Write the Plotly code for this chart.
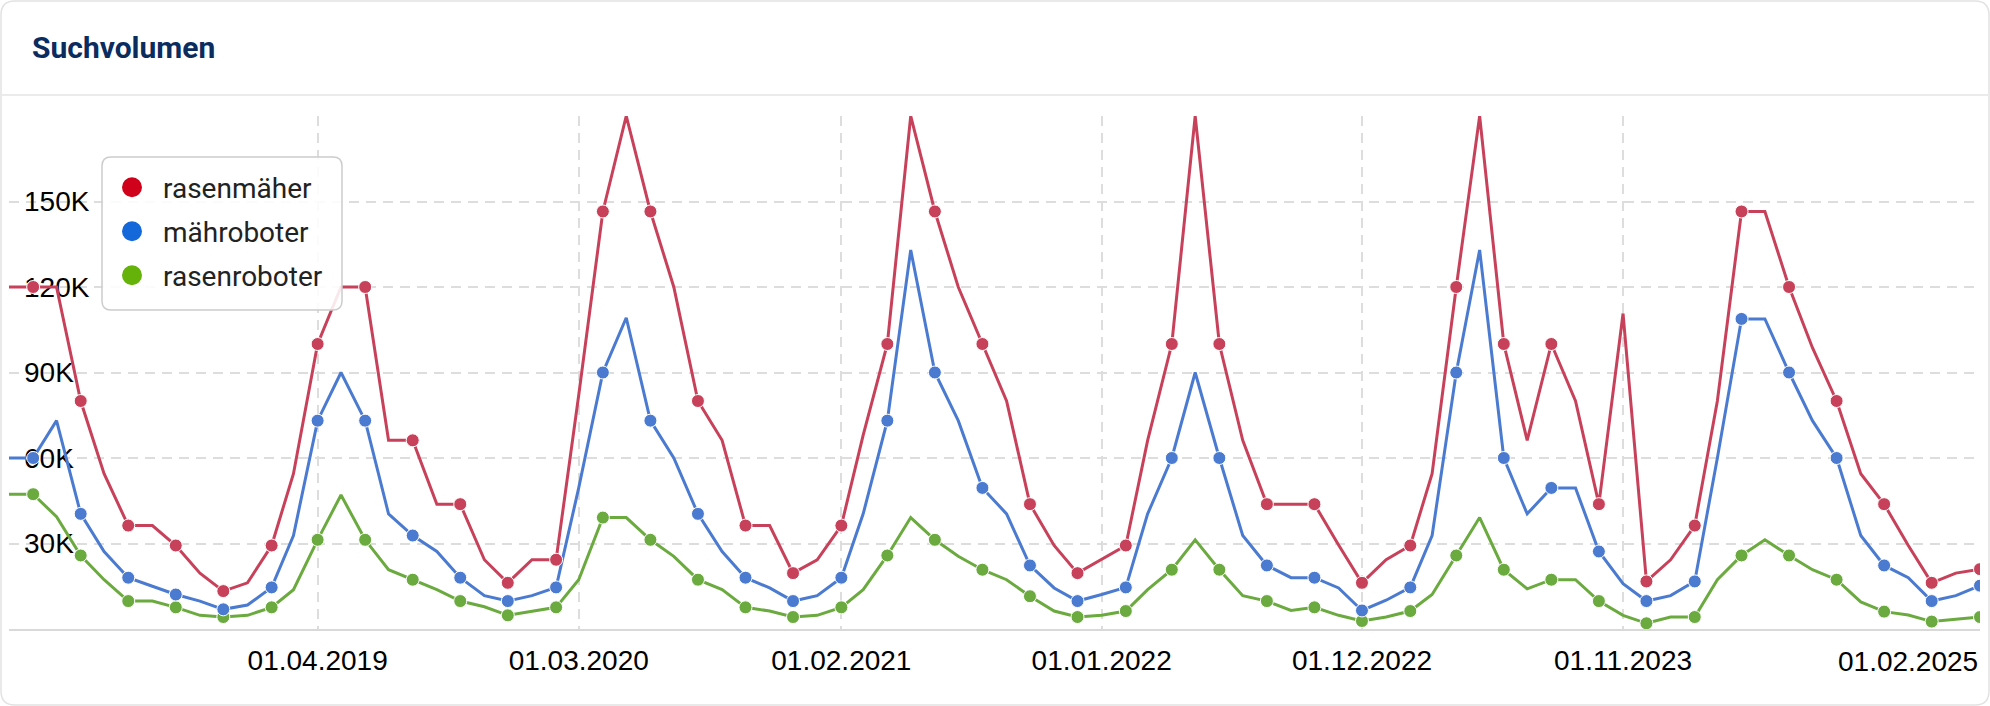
import plotly.graph_objects as go
import pandas as pd

# ---------------- data (values in thousands) ----------------
months = pd.date_range("2018-03-01", periods=84, freq="MS")

rasenmaeher = [120, 120, 120, 80, 54.5, 36.3, 36.3, 29.3, 19.6, 13.3, 16.2, 29.3,
               54.5, 100, 120, 120, 66.2, 66.2, 43.8, 43.8, 24.3, 16.2, 24.3, 24.3,
               82, 146.5, 180, 146.5, 120, 80, 66.2, 36.3, 36.3, 19.6, 24.3, 36.3,
               68, 100, 180, 146.5, 120, 100, 80, 43.8, 29.3, 19.6, 24.5, 29.3,
               66.2, 100, 180, 100, 66.2, 43.8, 43.8, 43.8, 29.5, 16.2, 24.3, 29.3,
               54.5, 120, 180, 100, 66.2, 100, 80, 43.8, 110.7, 16.7, 24.3, 36.3,
               80, 146.5, 146.5, 120, 98.7, 80, 54.5, 43.8, 29.3, 16.2, 19.6, 21]

maehroboter = [60, 60, 73.1, 40.4, 27.2, 18, 15, 12.1, 9.8, 6.9, 8.4, 14.6,
               32.8, 73.1, 90, 73.1, 40.4, 32.8, 27.2, 18, 11.7, 9.8, 11.7, 14.6,
               49.5, 90, 109.2, 73.1, 60, 40.4, 27.2, 18, 14.4, 9.8, 11.7, 18,
               40.4, 73.1, 133, 90, 73.1, 49.5, 40.4, 22.3, 14.4, 9.8, 12.1, 14.6,
               40.4, 60, 90, 60, 32.8, 22.3, 18, 18, 14.4, 6.5, 10.1, 14.6,
               32.8, 90, 133, 60, 40.4, 49.5, 49.5, 27.2, 15.9, 9.8, 11.7, 16.7,
               60, 108.8, 108.8, 90, 73.1, 60, 32.8, 22.3, 18, 9.8, 11.7, 15.2]

rasenroboter = [47.3, 47.3, 39.4, 25.8, 17.3, 9.8, 9.8, 7.6, 4.8, 4.2, 4.8, 7.6,
                13.8, 31.3, 47, 31.3, 20.8, 17.3, 13.8, 9.8, 7.8, 4.8, 6.3, 7.6,
                17.3, 39.1, 39.1, 31.3, 25.5, 17.3, 13.8, 7.6, 6.3, 4.2, 4.8, 7.6,
                13.8, 25.8, 39.1, 31.3, 25.5, 20.8, 17.3, 11.5, 6.3, 4.2, 4.8, 6.3,
                13.8, 20.8, 31.3, 20.8, 11.7, 9.8, 6.5, 7.6, 4.8, 2.8, 4.2, 6.3,
                12.1, 25.8, 39.1, 20.8, 14.1, 17.3, 17.3, 9.8, 4.8, 2.0, 4.2, 4.2,
                17.3, 25.8, 31.3, 25.8, 20.8, 17.3, 9.5, 6.1, 4.9, 2.6, 3.4, 4.2]

series_names = ["rasenmäher", "mähroboter", "rasenroboter"]
line_colors = ["#C8415A", "#4B7BD0", "#6BAA3F"]
legend_colors = ["#D0021B", "#1468D9", "#64B20A"]

tick_dates = ["2019-04-01", "2020-03-01", "2021-02-01", "2022-01-01",
              "2022-12-01", "2023-11-01", "2025-02-01"]
tick_labels = ["01.04.2019", "01.03.2020", "01.02.2021", "01.01.2022",
               "01.12.2022", "01.11.2023", "01.02.2025"]
y_ticks = [30000, 60000, 90000, 120000, 150000]
y_tick_labels = ["30K", "60K", "90K", "120K", "150K"]

# ---------------- geometry helpers ----------------
W, H = 1990, 706
L, R, T, B = 9, 10, 116, 77
PW, PH = W - L - R, H - T - B


def px(x):
    return (x - L) / PW


def py(y):
    return (H - B - y) / PH


def rrect(x0, y0, x1, y1, r):
    return (f"M {px(x0 + r)},{py(y0)} L {px(x1 - r)},{py(y0)} "
            f"Q {px(x1)},{py(y0)} {px(x1)},{py(y0 + r)} "
            f"L {px(x1)},{py(y1 - r)} Q {px(x1)},{py(y1)} {px(x1 - r)},{py(y1)} "
            f"L {px(x0 + r)},{py(y1)} Q {px(x0)},{py(y1)} {px(x0)},{py(y1 - r)} "
            f"L {px(x0)},{py(y0 + r)} Q {px(x0)},{py(y0)} {px(x0 + r)},{py(y0)} Z")


fig = go.Figure()

all_series = [rasenmaeher, maehroboter, rasenroboter]
n = len(months)
msize = [13 if i % 2 == 1 else 0 for i in range(n)]
mline = [1 if i % 2 == 1 else 0 for i in range(n)]

for name, vals, col in zip(series_names[::-1], all_series[::-1], line_colors[::-1]):
    fig.add_trace(go.Scatter(
        x=months, y=[v * 1000 for v in vals], name=name, mode="lines+markers",
        line=dict(color=col, width=3),
        marker=dict(size=msize, color=col, opacity=1,
                    line=dict(color="white", width=mline)),
        showlegend=False, hoverinfo="skip"))

for i, (name, col) in enumerate(zip(series_names, legend_colors)):
    fig.add_trace(go.Scatter(
        x=[None], y=[None], name=name, mode="markers",
        marker=dict(size=16, color=col, line=dict(color=col, width=4)),
        legendgroup=f"g{i}", showlegend=True))

shapes = [
    dict(type="path", xref="paper", yref="paper", path=rrect(1, 1, W - 1, H - 1, 14),
         line=dict(color="#e2e2e2", width=1.5), layer="below"),
    dict(type="line", xref="paper", yref="paper", x0=px(1), x1=px(W - 1), y0=py(95), y1=py(95),
         line=dict(color="#ebebeb", width=2), layer="below"),
    dict(type="path", xref="paper", yref="paper", path=rrect(102, 157, 342, 310, 9),
         fillcolor="rgba(255,255,255,0.88)", line=dict(color="#cccccc", width=1.5), layer="above"),
]

fig.update_layout(
    width=W, height=H,
    margin=dict(l=L, r=R, t=T, b=B),
    paper_bgcolor="white", plot_bgcolor="white",
    title=dict(text="<b>Suchvolumen</b>", font=dict(family="Roboto", size=30, color="#0b2c5e"),
               x=32 / W, xref="container", xanchor="left",
               y=1 - 47 / H, yref="container", yanchor="middle"),
    showlegend=True,
    legend=dict(x=px(101), y=py(162.5), xanchor="left", yanchor="top",
                bgcolor="rgba(0,0,0,0)", borderwidth=0,
                font=dict(family="Roboto", size=28, color="#222222"),
                itemwidth=52, tracegroupgap=4.6, itemclick=False),
    shapes=shapes,
    xaxis=dict(type="date", range=[months[0], months[-1]],
               tickvals=tick_dates, ticktext=tick_labels[:-1] + [""],
               showgrid=True, gridcolor="#dddddd", gridwidth=2, griddash="10px,7px",
               showline=True, linecolor="#d9d9d9", linewidth=2, zeroline=False,
               ticks="", ticklabelstandoff=5, layer="below traces",
               tickfont=dict(family="Liberation Sans, Arial", size=28, color="#000000")),
    yaxis=dict(range=[0, 180000], tickvals=y_ticks, ticktext=y_tick_labels,
               ticklabelposition="inside", ticks="", ticklabelstandoff=12,
               layer="below traces",
               showgrid=True, gridcolor="#dddddd", gridwidth=2, griddash="10px,7px",
               zeroline=False, showline=False,
               tickfont=dict(family="Liberation Sans, Arial", size=28, color="#000000")),
    annotations=[dict(x=months[-1], xref="x", y=py(661), yref="paper",
                      text=tick_labels[-1], showarrow=False, xanchor="right", yanchor="middle",
                      font=dict(family="Liberation Sans, Arial", size=28, color="#000000"))],
)

fig.write_html("out.html", config={"displayModeBar": False},
               post_script="document.body.style.margin='0';document.body.style.overflow='hidden';")
